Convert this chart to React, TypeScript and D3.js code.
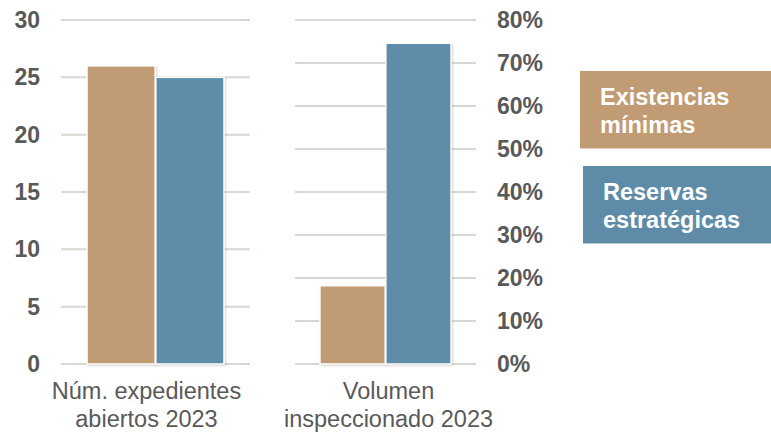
import React, { useEffect, useRef } from 'react';
import * as d3 from 'd3';

const series = ['Existencias mínimas', 'Reservas estratégicas'];
const legendLines = [['Existencias', 'mínimas'], ['Reservas', 'estratégicas']];
const colors = ['#C19B73', '#5E8CA8'];

const expedientesLabel = ['Núm. expedientes', 'abiertos 2023'];
const expedientesValues = [26, 25];
const expedientesTicks = [0, 5, 10, 15, 20, 25, 30];

const volumenLabel = ['Volumen', 'inspeccionado 2023'];
const volumenValues = [0.182, 0.746];
const volumenTicks = [0, 0.1, 0.2, 0.3, 0.4, 0.5, 0.6, 0.7, 0.8];

const width = 771;
const height = 433;

function App() {
  const root = useRef<HTMLDivElement>(null);

  useEffect(() => {
    const top = 20;
    const bottom = 364;
    const textColor = '#595959';
    const gridColor = '#DAD6D1';
    const font = '"Liberation Sans", Arial, sans-serif';

    const panels = [
      {
        label: expedientesLabel,
        values: expedientesValues,
        ticks: expedientesTicks,
        max: 30,
        range: [61, 250],
        labelDx: -9,
        axis: 'left',
        format: (d: number) => String(d),
      },
      {
        label: volumenLabel,
        values: volumenValues,
        ticks: volumenTicks,
        max: 0.8,
        range: [295, 476],
        labelDx: 3,
        axis: 'right',
        format: d3.format('.0%'),
      },
    ];

    const svg = d3
      .create('svg')
      .attr('width', width)
      .attr('height', height)
      .attr('viewBox', `0 0 ${width} ${height}`)
      .style('display', 'block')
      .style('font-family', font);

    const defs = svg.append('defs');
    const filter = defs.append('filter').attr('id', 'shadow').attr('x', '-10%').attr('y', '-10%').attr('width', '130%').attr('height', '130%');
    filter.append('feDropShadow').attr('dx', 1).attr('dy', 1).attr('stdDeviation', 1.2).attr('flood-color', '#000').attr('flood-opacity', 0.18);

    panels.forEach(p => {
      const y = d3.scaleLinear().domain([0, p.max]).range([bottom, top]);
      const x0 = d3.scaleBand<string>().domain([p.label.join(' ')]).range(p.range as [number, number]).paddingOuter(0.19);
      const x1 = d3.scaleBand<string>().domain(series).range([0, x0.bandwidth()]).paddingInner(0.01);
      const g = svg.append('g');

      g.selectAll('line.grid')
        .data(p.ticks)
        .join('line')
        .attr('class', 'grid')
        .attr('x1', p.range[0])
        .attr('x2', p.range[1])
        .attr('y1', d => y(d))
        .attr('y2', d => y(d))
        .attr('stroke', gridColor)
        .attr('stroke-width', 2);

      const axis = p.axis === 'left'
        ? d3.axisLeft(y).tickValues(p.ticks).tickFormat(p.format as any).tickSize(0).tickPadding(0)
        : d3.axisRight(y).tickValues(p.ticks).tickFormat(p.format as any).tickSize(0).tickPadding(0);

      const ax = g.append('g')
        .attr('transform', `translate(${p.axis === 'left' ? 40 : 497},0)`)
        .call(axis as any);
      ax.select('.domain').remove();
      ax.selectAll('text')
        .attr('fill', textColor)
        .style('font-size', '23px')
        .style('font-weight', 'bold')
        .style('font-family', font);

      const cx = x0(p.label.join(' ')) as number;
      g.selectAll('rect')
        .data(p.values)
        .join('rect')
        .attr('x', (_, i) => cx + (x1(series[i]) as number))
        .attr('width', x1.bandwidth())
        .attr('y', d => y(d))
        .attr('height', d => y(0) - y(d))
        .attr('fill', (_, i) => colors[i])
        .attr('stroke', '#fff')
        .attr('stroke-width', 1.5)
        .attr('filter', 'url(#shadow)');

      g.append('text')
        .attr('x', cx + x0.bandwidth() / 2 + p.labelDx)
        .attr('y', 399)
        .attr('text-anchor', 'middle')
        .attr('fill', textColor)
        .style('font-size', '23.5px')
        .selectAll('tspan')
        .data(p.label)
        .join('tspan')
        .attr('x', cx + x0.bandwidth() / 2 + p.labelDx)
        .attr('dy', (_, i) => (i === 0 ? 0 : 28))
        .text(d => d);
    });

    // legend boxes
    const legend = svg.append('g');
    const boxes = [
      { x: 580, y: 71 },
      { x: 583, y: 166 },
    ];
    series.forEach((s, i) => {
      const item = legend.append('g').attr('transform', `translate(${boxes[i].x},${boxes[i].y})`);
      item.append('rect')
        .attr('width', width - boxes[i].x)
        .attr('height', 77.5)
        .attr('fill', colors[i]);
      item.append('text')
        .attr('fill', '#fff')
        .style('font-size', '23.5px')
        .style('font-weight', 'bold')
        .selectAll('tspan')
        .data(legendLines[i])
        .join('tspan')
        .attr('x', 20)
        .attr('y', (_, j) => 34 + j * 28)
        .text(d => d);
    });

    const node = root.current;
    node?.appendChild(svg.node() as Node);
    return () => {
      if (node && node.firstChild) node.removeChild(node.firstChild);
    };
  }, []);

  return <div ref={root} style={{ position: 'absolute', left: 0, top: 0, width, height, overflow: 'hidden' }} />;
}

export default App;
